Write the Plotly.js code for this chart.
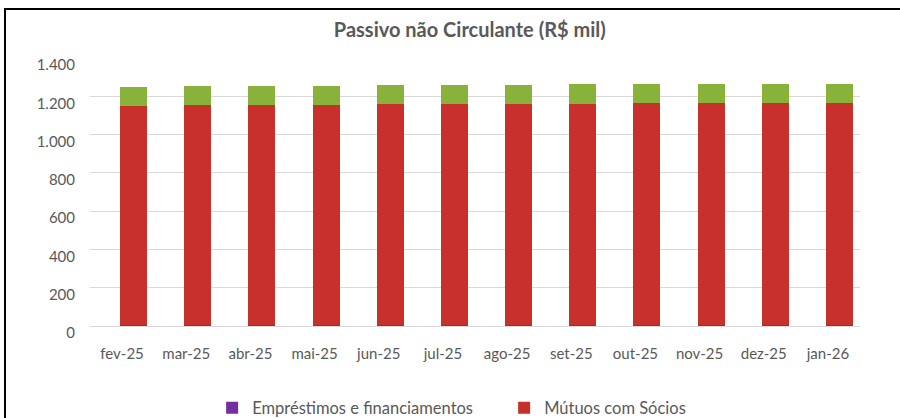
<!DOCTYPE html>
<html>
<head>
<meta charset="utf-8">
<script src="https://cdn.plot.ly/plotly-3.0.1.min.js"></script>
<style>
  html, body { margin: 0; padding: 0; background: #fff; }
  #wrap { position: relative; width: 900px; height: 418px; overflow: hidden; }
  #chart { width: 900px; height: 418px; }
  #frame { position: absolute; left: 4px; top: 8px; width: 920px; height: 430px;
           border-top: 2px solid #000; border-left: 2px solid #000; pointer-events: none; }
</style>
</head>
<body>
<div id="wrap">
  <div id="chart"></div>
  <div id="frame"></div>
</div>
<script>
const categories = ["fev-25","mar-25","abr-25","mai-25","jun-25","jul-25","ago-25","set-25","out-25","nov-25","dez-25","jan-26"];
const emprestimos = [4,4,4,4,4,4,4,4,4,4,4,4];
const mutuos = [1145,1148,1150,1152,1154,1156,1157,1158,1159,1160,1161,1162];
const outros = [100,100,100,100,100,100,100,100,100,100,100,100];
const yTickVals = [0,200,400,600,800,1000,1200,1400];
const yTickText = ["0","200","400","600","800","1.000","1.200","1.400"];

const barWidth = 0.42;
const barOffset = -0.03;

const traces = [
  { type: 'bar', name: 'Empréstimos e financiamentos', x: categories, y: emprestimos,
    marker: { color: '#7030A0' }, width: barWidth, offset: barOffset },
  { type: 'bar', name: 'Mútuos com Sócios', x: categories, y: mutuos,
    marker: { color: '#C8302C' }, width: barWidth, offset: barOffset },
  { type: 'bar', name: 'Outros', x: categories, y: outros, showlegend: false,
    marker: { color: '#88B23A' }, width: barWidth, offset: barOffset }
];

const layout = {
  width: 900, height: 418,
  margin: { l: 90, r: 40, t: 58, b: 92 },
  paper_bgcolor: '#fff', plot_bgcolor: '#fff',
  barmode: 'stack',
  font: { family: 'Lato, "Open Sans", sans-serif', size: 15, color: '#595959' },
  title: { text: 'Passivo não Circulante (R$ mil)', x: 0.522, xanchor: 'center', y: 0.928, yanchor: 'middle',
           font: { family: 'Lato, sans-serif', size: 20, color: '#595959', weight: 'bold' } },
  xaxis: { type: 'category', showgrid: false, zeroline: false, showline: false,
           ticks: '', ticklabelstandoff: 17, tickfont: { size: 15, color: '#595959' } },
  yaxis: { range: [0, 1400], tickvals: yTickVals, ticktext: yTickText,
           showgrid: true, gridcolor: '#D9D9D9', gridwidth: 1, zeroline: true, zerolinecolor: '#D9D9D9',
           showline: false, ticks: '', ticklabelstandoff: 14, ticklabelshift: 7,
           tickfont: { size: 15, color: '#595959' } },
  legend: { orientation: 'h', xref: 'container', yref: 'container',
            x: 0.2357, xanchor: 'left', y: 0.024, yanchor: 'middle',
            traceorder: 'normal', entrywidth: 247, entrywidthmode: 'pixels',
            font: { size: 16.5, color: '#595959' } },
  showlegend: true
};

Plotly.newPlot('chart', traces, layout, { displayModeBar: false, staticPlot: true });
</script>
</body>
</html>
